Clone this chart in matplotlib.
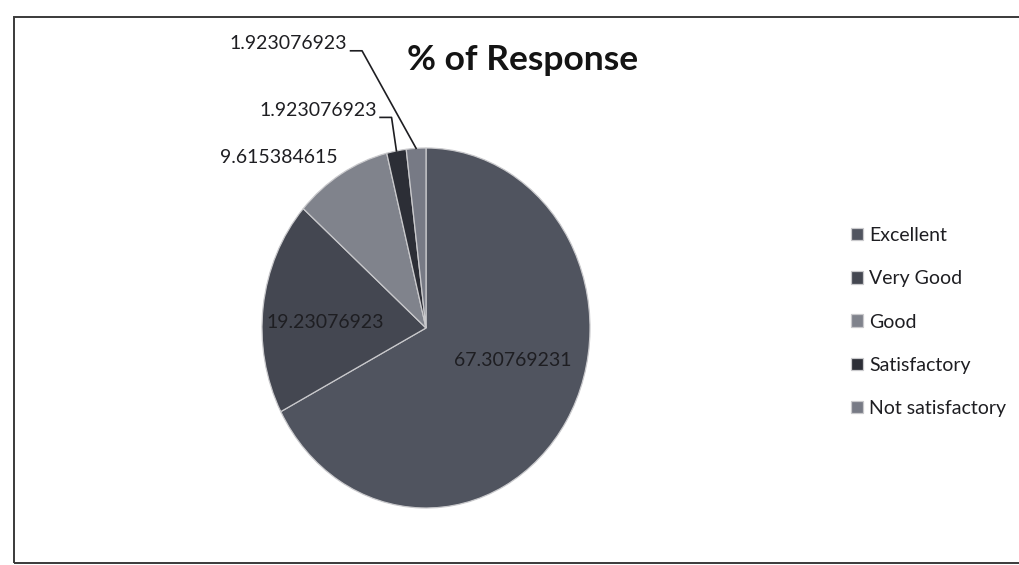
import matplotlib.pyplot as plt
import numpy as np
from matplotlib.patches import Rectangle

plt.rcParams['font.family'] = ['Lato', 'DejaVu Sans']

# Data
categories = ["Excellent", "Very Good", "Good", "Satisfactory", "Not satisfactory"]
percent = [67.30769231, 19.23076923, 9.615384615, 1.923076923, 1.923076923]
slice_colors = ["#50545f", "#444751", "#80838c", "#2c2e36", "#777a85"]

fig = plt.figure(figsize=(10.2, 5.65), dpi=100)
fig.patch.set_facecolor("white")

# scanned page frame
fig.patches.append(Rectangle((14 / 1020, 2 / 565), 1.1, 546 / 565, transform=fig.transFigure,
                             fill=False, edgecolor="#3a3a3a", linewidth=1.4))

# pie axes (slightly taller than wide, like the scan)
ax = fig.add_axes([262 / 1020, 1 - 508 / 565, 328 / 1020, 360 / 565])
wedges, _ = ax.pie(percent, colors=slice_colors, startangle=90, counterclock=False,
                   wedgeprops=dict(edgecolor="#c9c9cc", linewidth=0.9))
ax.set_aspect("auto")
ax.set_xlim(-1, 1)
ax.set_ylim(-1, 1)
ax.axis("off")

def label_text(v):
    return f"{v:.10g}"

# inside labels for the two big slices (nudged like Excel's best-fit placement)
nudge = [0.14, -0.045]
for w, v, dy in zip(wedges[:2], percent[:2], nudge):
    ang = np.deg2rad((w.theta1 + w.theta2) / 2)
    r = 0.62
    ax.text(r * np.cos(ang), r * np.sin(ang) + dy, label_text(v), ha="center", va="center",
            fontsize=14, color="#1e1e22", clip_on=False)

# outside labels (right edge x, centre y) in pie data units
outside = {2: (-0.54, 0.95), 3: (-0.30, 1.21), 4: (-0.48, 1.58)}
for i, (lx, ly) in outside.items():
    w = wedges[i]
    ang = np.deg2rad((w.theta1 + w.theta2) / 2)
    ax.text(lx, ly, label_text(percent[i]), ha="right", va="center", fontsize=14,
            color="#1e1e22", clip_on=False)
    if i > 2:
        mx, my = np.cos(ang), np.sin(ang)
        ax.plot([lx + 0.02, lx + 0.09, mx], [ly - 0.04, ly - 0.04, my], color="#1e1e22",
                linewidth=1.2, clip_on=False)

fig.text(523 / 1020, 1 - 60 / 565, "% of Response", ha="center", va="center",
         fontsize=25.5, fontweight="bold", color="#141414")

leg = fig.legend(wedges, categories, loc="center left", bbox_to_anchor=(834 / 1020, 1 - 322 / 565),
                 frameon=False, fontsize=14, handlelength=0.6, handleheight=0.6,
                 handletextpad=0.3, labelspacing=1.35)
for t in leg.get_texts():
    t.set_color("#1e1e22")

fig.savefig("out.png", dpi=100)
